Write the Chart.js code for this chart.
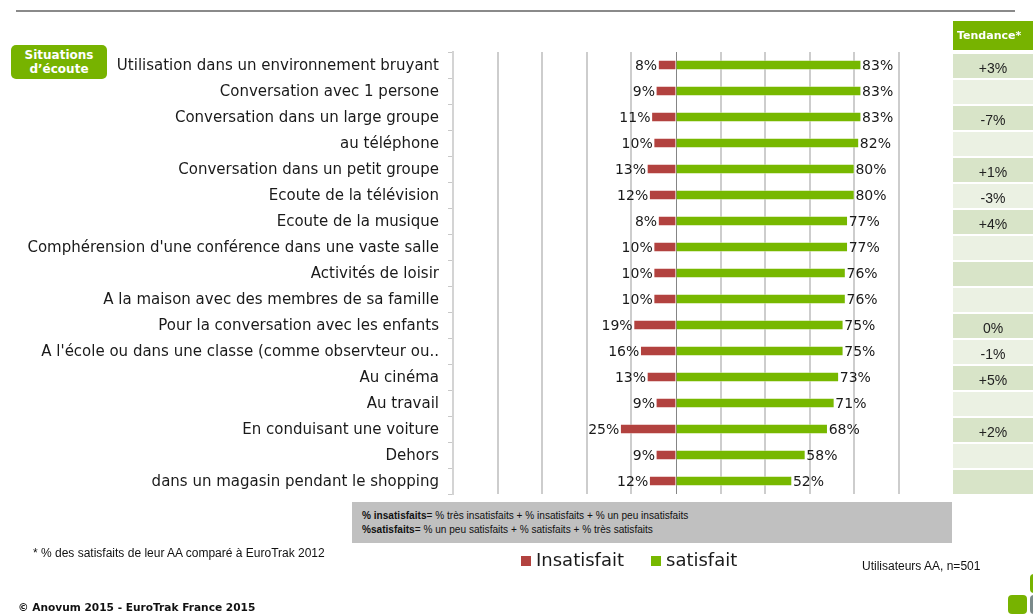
<!DOCTYPE html>
<html>
<head>
<meta charset="utf-8">
<script src="https://cdn.jsdelivr.net/npm/chart.js@4"></script>
<style>
html,body{margin:0;padding:0;background:#fff;}
#wrap{position:relative;width:1033px;height:614px;overflow:hidden;}
#c{position:absolute;left:0;top:0;}
.t{position:absolute;white-space:nowrap;}
</style>
</head>
<body>
<div id="wrap">
<canvas id="c" width="1033" height="614"></canvas>
<div class="t" style="left:16px;top:10px;width:999px;height:2px;background:#8a8a8a;"></div>
<div class="t" style="left:11px;top:45px;width:96px;height:34px;background:#77b300;border-radius:5px;color:#fff;font:bold 12px 'DejaVu Sans';text-align:center;line-height:14px;padding-top:3px;box-sizing:border-box;">Situations<br>d’écoute</div>
<div class="t" style="left:352px;top:502px;width:600px;height:41px;background:#c0c0c0;font:10.1px 'Liberation Sans';color:#111;line-height:14px;padding:7px 0 0 10px;box-sizing:border-box;"><b>% insatisfaits</b>= % très insatisfaits + % insatisfaits + % un peu insatisfaits<br><b>%satisfaits</b>= % un peu satisfaits + % satisfaits + % très satisfaits</div>
<div class="t" style="left:33px;top:546px;font:12px 'Liberation Sans';color:#111;">* % des satisfaits de leur AA comparé à EuroTrak 2012</div>
<div class="t" style="left:862px;top:559px;font:12px 'Liberation Sans';color:#111;">Utilisateurs AA, n=501</div>
<div class="t" style="left:18px;top:601px;font:bold 10.6px 'DejaVu Sans';color:#111;">© Anovum 2015 - EuroTrak France 2015</div>
<div class="t" style="left:1008px;top:595px;width:19px;height:19px;background:#77b300;border-radius:4px;"></div>
<div class="t" style="left:1030px;top:574px;width:10px;height:19px;background:#77b300;border-radius:4px;"></div>
<div class="t" style="left:1030px;top:595px;width:10px;height:19px;background:#7a8a8a;border-radius:4px;"></div>
</div>
<script>
const categories = [
  "Utilisation dans un environnement bruyant",
  "Conversation avec 1 persone",
  "Conversation dans un large groupe",
  "au téléphone",
  "Conversation dans un petit groupe",
  "Ecoute de la télévision",
  "Ecoute de la musique",
  "Comphérension d'une conférence dans une vaste salle",
  "Activités de loisir",
  "A la maison avec des membres de sa famille",
  "Pour la conversation avec les enfants",
  "A l'école ou dans une classe (comme observteur ou..",
  "Au cinéma",
  "Au travail",
  "En conduisant une voiture",
  "Dehors",
  "dans un magasin pendant le shopping"
];
const insatisfait = [8, 9, 11, 10, 13, 12, 8, 10, 10, 10, 19, 16, 13, 9, 25, 9, 12];
const satisfait = [83, 83, 83, 82, 80, 80, 77, 77, 76, 76, 75, 75, 73, 71, 68, 58, 52];
const tendance = ["+3%", "", "-7%", "", "+1%", "-3%", "+4%", "", "", "", "0%", "-1%", "+5%", "", "+2%", "", ""];
const tendanceTitle = "Tendance*";
const seriesNames = ["Insatisfait", "satisfait"];
const xMin = -100, xMax = 100, xStep = 20;

const RED = "#b2423f", GREEN = "#77b800";

const labelPlugin = {
  id: "labels",
  afterDatasetsDraw(chart) {
    const ctx = chart.ctx;
    ctx.save();
    ctx.font = "14px 'DejaVu Sans'";
    ctx.fillStyle = "#1a1a1a";
    ctx.textBaseline = "middle";
    chart.data.datasets.forEach((ds, di) => {
      const meta = chart.getDatasetMeta(di);
      meta.data.forEach((el, i) => {
        const v = di === 0 ? insatisfait[i] : satisfait[i];
        const txt = v + "%";
        if (di === 0) { ctx.textAlign = "right"; ctx.fillText(txt, el.x - 1, el.y + 1); }
        else { ctx.textAlign = "left"; ctx.fillText(txt, el.x + 1, el.y + 1); }
      });
    });
    ctx.restore();
  },
  afterDraw(chart) {
    const ctx = chart.ctx;
    const y = chart.scales.y;
    ctx.save();
    const x0 = 953, w = 90;
    ctx.fillStyle = "#77b300";
    ctx.fillRect(x0, 21, w, 29);
    ctx.fillStyle = "#fff";
    ctx.font = "bold 11px 'DejaVu Sans'";
    ctx.textAlign = "left"; ctx.textBaseline = "middle";
    ctx.fillText(tendanceTitle, 957, 36);
    const step = y.getPixelForValue(1) - y.getPixelForValue(0);
    tendance.forEach((t, i) => {
      const cy = y.getPixelForValue(i);
      ctx.fillStyle = i % 2 === 0 ? "#d8e4c8" : "#ebf1e3";
      ctx.fillRect(x0, cy - step / 2 + 2, w, step - 2);
      if (t) {
        ctx.fillStyle = "#222";
        ctx.font = "14px 'Liberation Sans'";
        ctx.textAlign = "center";
        ctx.fillText(t, 993, cy + 4);
      }
    });
    ctx.font = "18px 'DejaVu Sans'";
    ctx.textAlign = "left"; ctx.textBaseline = "middle";
    const xs = [521, 651];
    xs.forEach((x, k) => {
      ctx.fillStyle = chart.data.datasets[k].backgroundColor;
      ctx.fillRect(x, 556, 10, 10);
      ctx.fillStyle = "#1a1a1a";
      ctx.fillText(chart.data.datasets[k].label, x + 15, 561);
    });
    ctx.restore();
  }
};

new Chart(document.getElementById("c"), {
  type: "bar",
  data: {
    labels: categories,
    datasets: [
      { label: seriesNames[0], data: insatisfait.map(v => -v), backgroundColor: RED, borderColor: "rgba(255,255,255,0.35)", borderWidth: 1, barThickness: 10 },
      { label: seriesNames[1], data: satisfait, backgroundColor: GREEN, borderColor: "rgba(255,255,255,0.35)", borderWidth: 1, barThickness: 10 }
    ]
  },
  options: {
    indexAxis: "y",
    responsive: false,
    animation: false,
    layout: { padding: { left: 0, right: 134, top: 52, bottom: 120 } },
    plugins: { legend: { display: false }, tooltip: { enabled: false } },
    scales: {
      x: {
        stacked: true, min: xMin, max: xMax,
        ticks: { display: false, stepSize: xStep },
        border: { display: false },
        grid: {
          drawTicks: false,
          color: c => c.tick && c.tick.value === 0 ? "#858585" : "#cdcdcd",
          lineWidth: c => c.tick && c.tick.value === 0 ? 1 : 2
        }
      },
      y: {
        stacked: true,
        afterFit: s => { s.width = 453; },
        border: { display: true, color: "#d4d4d4", width: 2 },
        grid: { drawOnChartArea: false, drawTicks: true, tickLength: 5, color: "#c8c8c8", offset: true },
        ticks: { font: { family: "'DejaVu Sans'", size: 15 }, color: "#1a1a1a", padding: 9, autoSkip: false, labelOffset: 1 }
      }
    }
  },
  plugins: [labelPlugin]
});
</script>
</body>
</html>
